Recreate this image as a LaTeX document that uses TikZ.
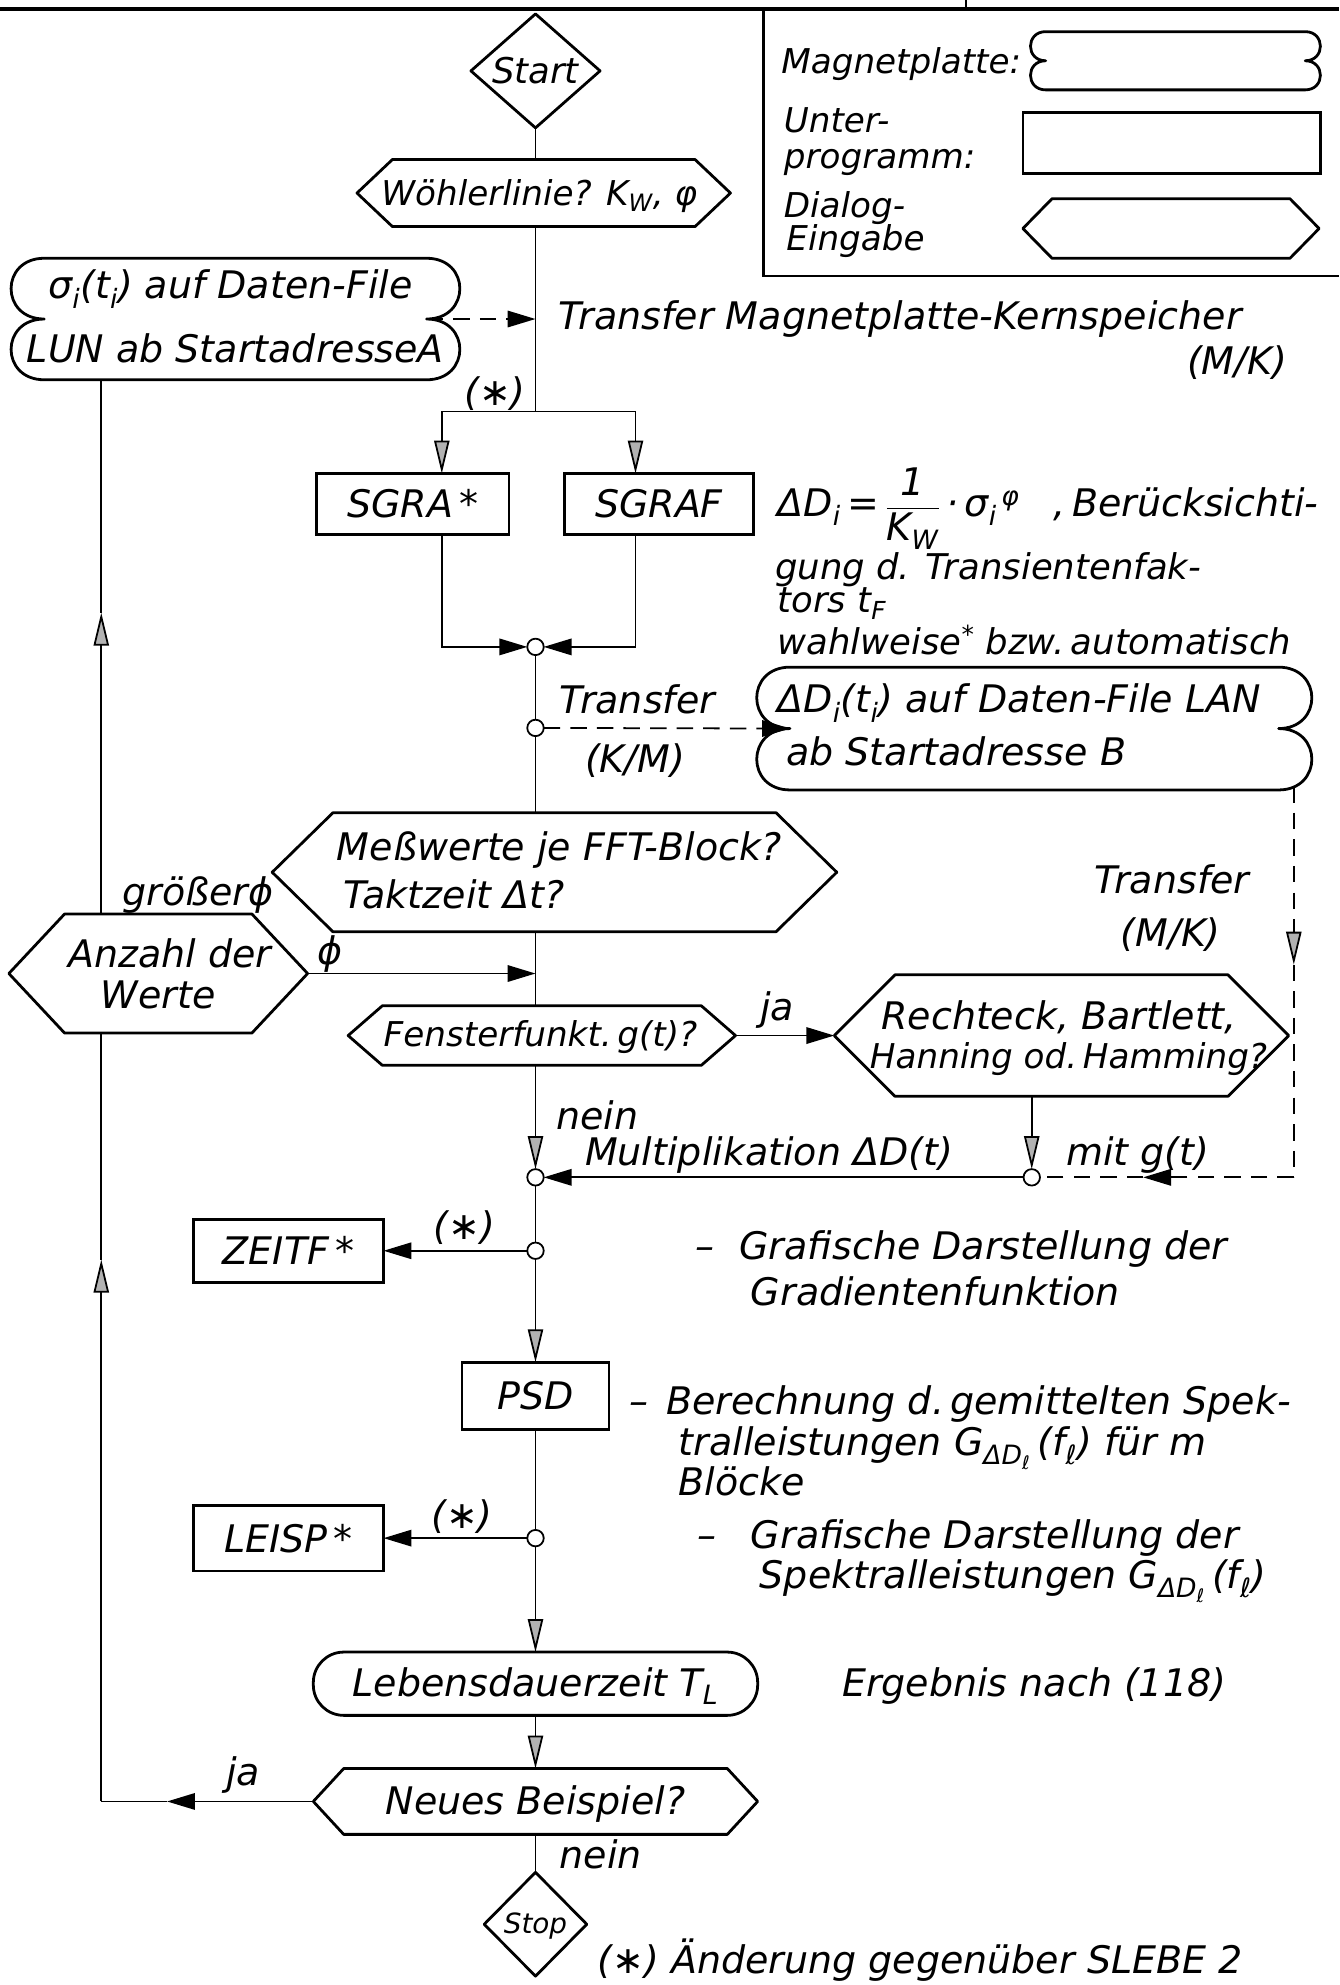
\documentclass[tikz,border=0pt]{standalone}
\usepackage{amsmath}
\usepackage{fontspec}
\setmainfont{DejaVu Sans}[ItalicFont={DejaVu Sans Oblique}]
\usetikzlibrary{arrows.meta,calc}
\newcommand{\fA}{\fontsize{30}{34}\selectfont\itshape}
\newcommand{\fB}{\fontsize{27}{31}\selectfont\itshape}
\newcommand{\fD}{\fontsize{28}{32}\selectfont\itshape}
\newcommand{\fC}{\fontsize{22}{26}\selectfont\itshape}
\newcommand{\hexa}[2]{\draw[shp] (#1.west) -- ($(#1.north west)+(#2,0)$) -- ($(#1.north east)+(-#2,0)$) -- (#1.east) -- ($(#1.south east)+(-#2,0)$) -- ($(#1.south west)+(#2,0)$) -- cycle;}
\newcommand{\mplat}[2]{\draw[shp] (#1.north west) -- (#1.north east) .. controls +(#2,0) and +(#2,0) .. (#1.east) .. controls +(#2,0) and +(#2,0) .. (#1.south east) -- (#1.south west) .. controls +(-#2,0) and +(-#2,0) .. (#1.west) .. controls +(-#2,0) and +(-#2,0) .. (#1.north west);}
\tikzset{
  sbox/.style={rectangle, draw=none, inner sep=0pt, outer sep=0pt},
  shp/.style={line width=2.2pt, line join=round, line cap=round},
  conn/.style={line width=1.4pt},
  dsh/.style={line width=1.4pt, dash pattern=on 13pt off 8pt},
  ab/.style={-{Triangle[length=22pt,width=13pt]}},
  ag/.style={-{Triangle[length=26pt,width=12pt,fill=gray!60]}},
  txl/.style={anchor=base west, inner sep=0pt, font=\fA},
  txc/.style={anchor=base, inner sep=0pt, font=\fA},
  txr/.style={anchor=base east, inner sep=0pt, font=\fA},
  jdot/.style={circle, draw, line width=1.4pt, fill=white, minimum size=13pt, inner sep=0pt, outer sep=0pt},
}
\begin{document}
\begin{tikzpicture}[x=1pt,y=-1pt]
\fill[white] (0,0) rectangle (1058,1568);
\useasboundingbox (0,0) rectangle (1058,1568);

% frame and legend
\coordinate (tl0) at (0,7); \coordinate (tr0) at (1058,7);
\draw[line width=2.6pt] (tl0) -- (tr0);
\coordinate (tk0) at (763,0); \draw[conn] (tk0) -- (tk0 |- tl0);
\coordinate (lg0) at (603,7); \coordinate (lg1) at (603,218); \coordinate (lg2) at (1058,218);
\draw[line width=2.2pt] (lg0) -- (lg1) -- (lg2);

\node[txl, font=\fB] (lgt1) at (617,58) {Magnetplatte:};
\node[sbox, minimum width=205pt, minimum height=46pt] (lgmp) at (928.5,48) {};
\mplat{lgmp}{16}
\node[txl, font=\fB] (lgt2) at (619,105) {Unter-};
\node[txl, font=\fB] (lgt3) at (619,133) {programm:};
\node[sbox, draw, line width=2.2pt, minimum width=235pt, minimum height=48pt] (lgrect) at (925.5,113) {};
\node[txl, font=\fB] (lgt4) at (619,172) {Dialog-};
\node[txl, font=\fB] (lgt5) at (621,198) {Eingabe};
\node[sbox, minimum width=234pt, minimum height=47pt] (lghex) at (925,180.5) {};
\hexa{lghex}{23}

% main column
\coordinate (mx) at (423,0);
\node[sbox, minimum width=102pt, minimum height=90pt] (start) at (423,56) {};
\draw[shp] (start.north) -- (start.east) -- (start.south) -- (start.west) -- cycle;
\node[txc, font=\fD] (tstart) at (423,66) {Start};

\node[sbox, minimum width=295pt, minimum height=53pt] (woehler) at (429.5,152.5) {};
\hexa{woehler}{28}
\node[txc, font=\fB] (twoe) at (426,162) {Wöhlerlinie? K\textsubscript{W}, φ};
\draw[conn] (start.south) -- (mx |- woehler.north);

\node[sbox, minimum width=302pt, minimum height=96pt] (lbox) at (186,252) {};
\mplat{lbox}{35}
\node[txc] (tlb1) at (182,236) {σ\textsubscript{i}(t\textsubscript{i}) auf Daten-File};
\node[txc] (tlb2) at (186,286) {LUN ab StartadresseA};
\draw[dsh, ab] (lbox.east) -- (mx |- lbox.east);
\node[txl] (ttr1) at (441,260) {Transfer Magnetplatte-Kernspeicher};
\node[txr] (ttr2) at (1017,296) {(M/K)};

\coordinate (split) at (423,325);
\coordinate (sl) at (349,325);
\coordinate (sr) at (502,325);
\draw[conn] (mx |- woehler.south) -- (split);
\node[txc] (tast1) at (391,320) {(∗)};
\node[sbox, draw, line width=2.2pt, minimum width=152pt, minimum height=48pt] (sgra) at (326,398) {};
\node[sbox, draw, line width=2.2pt, minimum width=149pt, minimum height=48pt] (sgraf) at (520.5,398) {};
\node[txc] (tsgra) at (326,409) {SGRA\,*};
\node[txc] (tsgraf) at (520.5,409) {SGRAF};
\draw[conn, ag] (split) -- (sl) -- (sl |- sgra.north);
\draw[conn, ag] (split) -- (sr) -- (sr |- sgraf.north);

\node[jdot] (m1) at (423,511) {};
\draw[conn, ab] (sl |- sgra.south) -- (sl |- m1) -- (m1.west);
\draw[conn, ab] (sr |- sgraf.south) -- (sr |- m1) -- (m1.east);

\node[txl] (teq1) at (614,408) {ΔD\textsubscript{i}\,=\,$\dfrac{\text{1}}{\text{K\textsubscript{W}}}$\,·\,σ\textsubscript{i}\textsuperscript{\,φ}\hspace{0.9em},\,Berücksichti-};
\node[txl, font=\fD] (teq2) at (612,458) {gung d. Transientenfak-};
\node[txl, font=\fD] (teq3) at (614,484) {tors t\textsubscript{F}};
\node[txl, font=\fD] (teq4) at (614,517) {wahlweise\textsuperscript{*} bzw.\,automatisch};

\node[jdot] (c2) at (423,575) {};
\draw[conn] (m1.south) -- (c2.north);
\node[sbox, minimum width=386pt, minimum height=97pt] (lan) at (817,575.5) {};
\mplat{lan}{35}
\node[txl] (tlan1) at (614,563) {ΔD\textsubscript{i}(t\textsubscript{i}) auf Daten-File LAN};
\node[txl] (tlan2) at (621,605) {ab Startadresse B};
\draw[dsh, ab] (c2.east) -- (lan.west);
\node[txl] (ttr3) at (442,564) {Transfer};
\node[txl] (ttr4) at (462,610) {(K/M)};

\node[sbox, minimum width=446pt, minimum height=94pt] (meas) at (438,689) {};
\hexa{meas}{48}
\node[txl] (tme1) at (266,680) {Meßwerte je FFT-Block?};
\node[txl] (tme2) at (271,718) {Taktzeit Δt?};
\draw[conn] (c2.south) -- (mx |- meas.north);
\node[txr] (tgr) at (216,715) {größerϕ};

\node[sbox, minimum width=236pt, minimum height=94pt] (anz) at (125,769) {};
\hexa{anz}{44}
\node[txc] (tanz1) at (134,764) {Anzahl der};
\node[txc] (tanz2) at (125,797) {Werte};
\draw[conn, ab] (anz.east) -- (mx |- anz.east);
\node[txc] (tphi) at (261,762) {ϕ};

\node[sbox, minimum width=306pt, minimum height=47pt] (fen) at (428,818) {};
\hexa{fen}{27}
\node[txc, font=\fB] (tfen) at (427,827) {Fensterfunkt.\,g(t)?};
\draw[conn] (mx |- meas.south) -- (mx |- fen.north);

\node[sbox, minimum width=359pt, minimum height=96pt] (rech) at (838.5,818) {};
\hexa{rech}{48}
\node[txl] (tre1) at (696,813) {Rechteck, Bartlett,};
\node[txl, font=\fB] (tre2) at (687,844) {Hanning od.\,Hamming?};
\draw[conn, ab] (fen.east) -- (rech.west);
\node[txc] (tja1) at (614,806) {ja};

\node[txl] (ttr5) at (864,706) {Transfer};
\node[txl] (ttr6) at (885,748) {(M/K)};

\node[jdot] (c3) at (423,930) {};
\node[jdot] (c4) at (815,930) {};
\draw[conn, ag] (mx |- fen.south) -- (c3.north);
\draw[conn, ag] (c4 |- rech.south) -- (c4.north);
\draw[conn, ab] (c4.west) -- (c3.east);
\node[txl] (tnein1) at (439,892) {nein};
\node[txl] (tmul) at (462,921) {Multiplikation ΔD(t)};
\node[txl] (tmit) at (842,921) {mit g(t)};

\coordinate (d0) at (1022,621);
\coordinate (d1) at (1022,762);
\coordinate (d2) at (1022,930);
\coordinate (d3) at (903,930);
\draw[dsh, ag] (d0) -- (d1);
\draw[dsh] (d1) -- (d2);
\draw[dsh, ab] (d2) -- (d3);
\draw[dsh] (d3) -- (c4.east);

\node[jdot] (c5) at (423,988) {};
\draw[conn] (c3.south) -- (c5.north);
\node[sbox, draw, line width=2.2pt, minimum width=150pt, minimum height=50pt] (zeitf) at (228,988) {};
\node[txc] (tzeitf) at (228,999) {ZEITF\,*};
\draw[conn, ab] (c5.west) -- (zeitf.east);
\node[txc] (tast2) at (367,979) {(∗)};
\node[txl] (tgr1) at (549,995) {–\hspace{20pt}Grafische Darstellung der};
\node[txl] (tgr2) at (593,1031) {Gradientenfunktion};

\node[sbox, draw, line width=2.2pt, minimum width=116pt, minimum height=53pt] (psd) at (423,1102.5) {};
\node[txc] (tpsd) at (423,1113) {PSD};
\draw[conn, ag] (c5.south) -- (psd.north);
\node[txl] (tbe1) at (497,1117) {–\hspace{14pt}Berechnung d.\,gemittelten Spek-};
\node[txl] (tbe2) at (536,1150) {tralleistungen G\textsubscript{ΔD\textsubscript{ℓ}}\,(f\textsubscript{ℓ}) für m};
\node[txl] (tbe3) at (536,1181) {Blöcke};

\node[jdot] (c6) at (423,1215) {};
\draw[conn] (psd.south) -- (c6.north);
\node[sbox, draw, line width=2.2pt, minimum width=150pt, minimum height=52pt] (leisp) at (228,1215) {};
\node[txc] (tleisp) at (228,1226) {LEISP\,*};
\draw[conn, ab] (c6.west) -- (leisp.east);
\node[txc] (tast3) at (365,1207) {(∗)};
\node[txl] (tgr3) at (551,1223) {–\hspace{27pt}Grafische Darstellung der};
\node[txl] (tgr4) at (600,1255) {Spektralleistungen G\textsubscript{ΔD\textsubscript{ℓ}}\,(f\textsubscript{ℓ})};

\node[sbox, draw, line width=2.2pt, rounded corners=24pt, minimum width=351pt, minimum height=50pt] (leb) at (423,1330) {};
\node[txc] (tleb) at (423,1340) {Lebensdauerzeit T\textsubscript{L}};
\draw[conn, ag] (c6.south) -- (leb.north);
\node[txl] (terg) at (665,1340) {Ergebnis nach (118)};

\node[sbox, minimum width=351pt, minimum height=52pt] (neu) at (423,1423) {};
\hexa{neu}{24}
\node[txc] (tneu) at (423,1433) {Neues Beispiel?};
\draw[conn, ag] (leb.south) -- (neu.north);
\node[txc] (tja2) at (192,1410) {ja};

\coordinate (lx) at (80,0);
\coordinate (ja1) at (132,1423);
\coordinate (up1) at (80,995);
\coordinate (up2) at (80,484);
\draw[conn, ab] (neu.west) -- (ja1);
\draw[conn] (ja1) -- (lx |- neu.west);
\draw[conn, ag] (lx |- neu.west) -- (up1);
\draw[conn] (up1) -- (lx |- anz.south);
\draw[conn, ag] (lx |- anz.north) -- (up2);
\draw[conn] (up2) -- (lx |- lbox.south);

\node[sbox, minimum width=81pt, minimum height=82pt] (stop) at (423,1520) {};
\draw[shp] (stop.north) -- (stop.east) -- (stop.south) -- (stop.west) -- cycle;
\node[txc, font=\fC] (tstop) at (423,1527) {Stop};
\draw[conn] (neu.south) -- (stop.north);
\node[txl] (tnein2) at (442,1476) {nein};
\node[txl] (tfoot) at (472,1559) {(∗) Änderung gegenüber SLEBE 2};
\end{tikzpicture}
\end{document}
